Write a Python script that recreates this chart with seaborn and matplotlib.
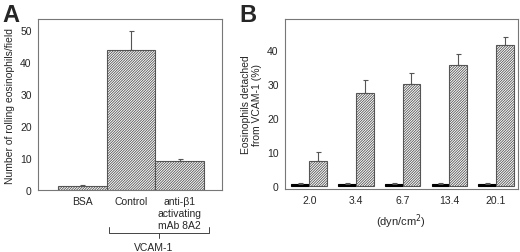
import numpy as np
import pandas as pd
import matplotlib
matplotlib.use("Agg")
import matplotlib.pyplot as plt
import matplotlib.transforms as mtransforms
import seaborn as sns

# panel A: rolling eosinophils
a_labels = ["BSA", "Control", "anti-\u03b21\nactivating\nmAb 8A2"]
a_values = [1.1, 43.7, 9.0]
a_err = [0.4, 5.8, 0.6]

# panel B: detachment vs shear stress
b_shear = ["2.0", "3.4", "6.7", "13.4", "20.1"]
b_ctrl = [0.5, 0.5, 0.5, 0.5, 0.5]
b_ctrl_err = [0.5, 0.5, 0.5, 0.5, 0.5]
b_treat = [7.4, 27.4, 30.0, 35.6, 41.3]
b_treat_err = [2.5, 3.6, 3.1, 3.1, 2.5]
b_groups = ["control", "treated"]

sns.set_style("white")
plt.rcParams["font.family"] = ["Liberation Sans", "DejaVu Sans"]
plt.rcParams["font.size"] = 7
plt.rcParams["hatch.linewidth"] = 0.6

edge = "#555555"
spine = "#777777"
hatch = "/" * 13

fig = plt.figure(figsize=(5.2, 2.53), dpi=100)
ax_a = fig.add_axes([0.073, 0.245, 0.354, 0.676])
ax_b = fig.add_axes([0.548, 0.249, 0.448, 0.672])

# ---- panel A
df_a = pd.DataFrame({"cond": a_labels, "n": a_values})
sns.barplot(data=df_a, x="cond", y="n", order=a_labels, color="white",
            width=1.0, edgecolor=edge, linewidth=0.8, errorbar=None, ax=ax_a)
for p in ax_a.patches:
    p.set_hatch(hatch)
xa = [p.get_x() + p.get_width() / 2 for p in ax_a.patches]
ax_a.errorbar(xa, a_values, yerr=[np.zeros(len(a_err)), a_err], fmt="none",
              ecolor=edge, elinewidth=0.8, capsize=1.8, capthick=0.8)
ax_a.set_xlim(-0.91, 2.87)
ax_a.set_ylim(0, 53.4)
ax_a.set_yticks([0, 10, 20, 30, 40, 50])
ax_a.set_xlabel("")
ax_a.set_ylabel("Number of rolling eosinophils/field", fontsize=7.5, labelpad=4)
ax_a.tick_params(axis="y", length=2.5, width=0.6, color=spine, pad=2, labelsize=7.5)
ax_a.tick_params(axis="x", length=0, pad=4, labelsize=7.5)
for lab in ax_a.get_xticklabels():
    lab.set_verticalalignment("top")
    lab.set_linespacing(1.3)

# VCAM-1 bracket under Control and anti-b1
trans = mtransforms.blended_transform_factory(ax_a.transData, ax_a.transAxes)
bl = ax_a.patches[1].get_x() + 0.04
br = ax_a.patches[2].get_x() + ax_a.patches[2].get_width() + 0.1
bm = (bl + br) / 2
ax_a.plot([bl, bl, br, br], [-0.215, -0.25, -0.25, -0.215], color="#444444",
          lw=0.7, transform=trans, clip_on=False)
ax_a.plot([bm, bm], [-0.25, -0.28], color="#444444", lw=0.7,
          transform=trans, clip_on=False)
ax_a.text(bm - 0.1, -0.335, "VCAM-1", transform=trans, ha="center", va="center",
          fontsize=7.5)

# ---- panel B
df_b = pd.DataFrame({
    "shear": b_shear * 2,
    "pct": b_ctrl + b_treat,
    "group": [b_groups[0]] * len(b_shear) + [b_groups[1]] * len(b_shear),
})
sns.barplot(data=df_b, x="shear", y="pct", hue="group", order=b_shear,
            hue_order=b_groups, palette=["black", "white"], width=0.76,
            edgecolor=edge, linewidth=0.8, errorbar=None, legend=False, ax=ax_b)
for p in ax_b.containers[0]:
    p.set_edgecolor("black")
for p in ax_b.containers[1]:
    p.set_hatch(hatch)

for cont, vals, errs in [(ax_b.containers[0], b_ctrl, b_ctrl_err),
                         (ax_b.containers[1], b_treat, b_treat_err)]:
    xb = [p.get_x() + p.get_width() / 2 for p in cont]
    ax_b.errorbar(xb, vals, yerr=[np.zeros(len(errs)), errs], fmt="none",
                  ecolor=edge, elinewidth=0.8, capsize=1.8, capthick=0.8)

ax_b.set_xlim(-0.52, 4.47)
ax_b.set_ylim(-0.9, 49)
ax_b.set_yticks([0, 10, 20, 30, 40])
ax_b.set_xlabel("(dyn/cm$^2$)", fontsize=8, labelpad=5)
ax_b.set_ylabel("Eosinophils detached\nfrom VCAM-1 (%)", fontsize=7.5,
                labelpad=4, linespacing=1.1)
ax_b.tick_params(axis="y", length=2.5, width=0.6, color=spine, pad=2, labelsize=7.5)
ax_b.tick_params(axis="x", length=0, pad=4, labelsize=7.5)

for ax in (ax_a, ax_b):
    for s in ax.spines.values():
        s.set_color(spine)
        s.set_linewidth(0.8)

fig.text(0.004, 0.985, "A", fontsize=17, fontweight="bold", ha="left", va="top")
fig.text(0.461, 0.985, "B", fontsize=17, fontweight="bold", ha="left", va="top")

fig.savefig("out.png", dpi=100, facecolor="white")
